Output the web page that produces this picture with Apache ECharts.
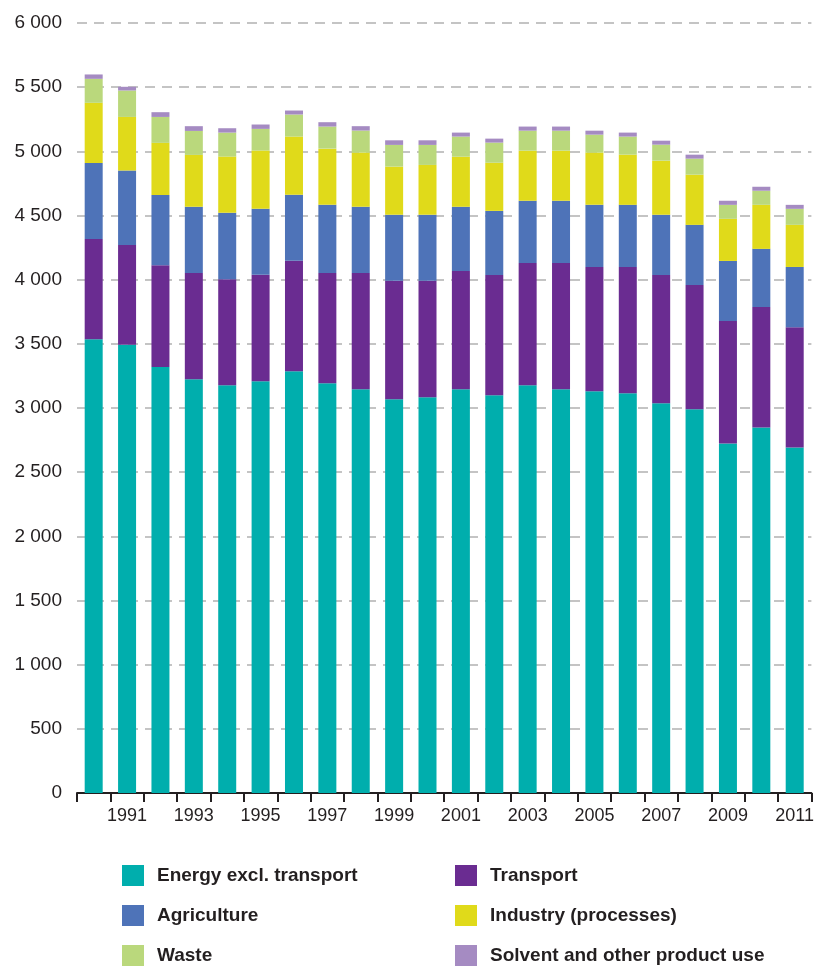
<!DOCTYPE html>
<html>
<head>
<meta charset="utf-8">
<script src="https://cdn.jsdelivr.net/npm/echarts@6/dist/echarts.min.js"></script>
<style>
  html, body { margin: 0; padding: 0; background: #fff; }
  #chart { width: 817px; height: 970px; }
</style>
</head>
<body>
<div id="chart"></div>
<script>
// years on the category axis
const years = ['1990', '1991', '1992', '1993', '1994', '1995', '1996', '1997', '1998', '1999', '2000',
  '2001', '2002', '2003', '2004', '2005', '2006', '2007', '2008', '2009', '2010', '2011']

// series values
const energy = [3536, 3492, 3320, 3224, 3177, 3208, 3286, 3192, 3146, 3068, 3083,
  3146, 3099, 3177, 3146, 3130, 3115, 3037, 2990, 2724, 2849, 2693]
const transport = [780, 778, 793, 827, 827, 830, 861, 859, 905, 923, 908,
  922, 938, 953, 984, 969, 984, 1000, 968, 953, 938, 937]
const agriculture = [593, 580, 547, 518, 518, 515, 515, 533, 518, 515, 515,
  500, 499, 485, 485, 484, 484, 468, 469, 469, 453, 469]
const industry = [469, 418, 406, 403, 437, 453, 453, 437, 421, 375, 388,
  390, 375, 390, 390, 407, 391, 422, 391, 328, 343, 328]
const waste = [187, 206, 202, 187, 187, 169, 172, 172, 172, 169, 156,
  157, 157, 156, 156, 140, 141, 125, 125, 109, 110, 125]
const solvent = [34, 29, 37, 37, 34, 34, 31, 34, 34, 36, 36,
  31, 31, 32, 32, 31, 31, 31, 31, 32, 31, 31]

const names = ['Energy excl. transport', 'Transport', 'Agriculture',
  'Industry (processes)', 'Waste', 'Solvent and other product use']
const colors = ['#00AEAD', '#6A2C91', '#4E73B8', '#E0DA1A', '#BAD87C', '#A58BC2']
const values = [energy, transport, agriculture, industry, waste, solvent]

const font = '"Liberation Sans Narrow", "Liberation Sans", sans-serif'
const textColor = '#231F20'

const chart = echarts.init(document.getElementById('chart'), null, { renderer: 'canvas' })

// legend: two columns of three rows
const legendBase = {
  orient: 'vertical',
  top: 865,
  height: 130,
  padding: 0,
  itemWidth: 22,
  itemHeight: 21,
  itemGap: 19,
  icon: 'rect',
  textStyle: {
    fontFamily: font,
    fontSize: 19,
    fontWeight: 'bold',
    color: textColor,
    padding: [0, 0, 0, 8]
  }
}

chart.setOption({
  animation: false,
  backgroundColor: '#fff',
  color: colors,
  grid: { left: 77, right: 3, top: 23, bottom: 177, containLabel: false },
  legend: [
    Object.assign({}, legendBase, { left: 122, data: [names[0], names[2], names[4]] }),
    Object.assign({}, legendBase, { left: 455, data: [names[1], names[3], names[5]] })
  ],
  xAxis: {
    type: 'category',
    data: years,
    boundaryGap: true,
    axisLine: { lineStyle: { color: '#231F20', width: 2 } },
    axisTick: { show: true, interval: 0, length: 9, lineStyle: { color: '#231F20', width: 2 } },
    axisLabel: {
      interval: (i) => i % 2 === 1,
      fontFamily: font,
      fontSize: 18,
      color: textColor,
      margin: 14
    }
  },
  yAxis: {
    type: 'value',
    min: 0,
    max: 6000,
    interval: 500,
    axisLine: { show: false },
    axisTick: { show: false },
    axisLabel: {
      fontFamily: font,
      fontSize: 19,
      color: textColor,
      margin: 15,
      formatter: (v) => String(v).replace(/\B(?=(\d{3})+(?!\d))/g, ' ')
    },
    splitLine: {
      lineStyle: { color: '#C4C4C4', width: 2, type: [10, 7] }
    }
  },
  series: names.map((n, i) => ({
    name: n,
    type: 'bar',
    stack: 'total',
    barWidth: 18,
    data: values[i],
    itemStyle: { color: colors[i] }
  }))
})
</script>
</body>
</html>
